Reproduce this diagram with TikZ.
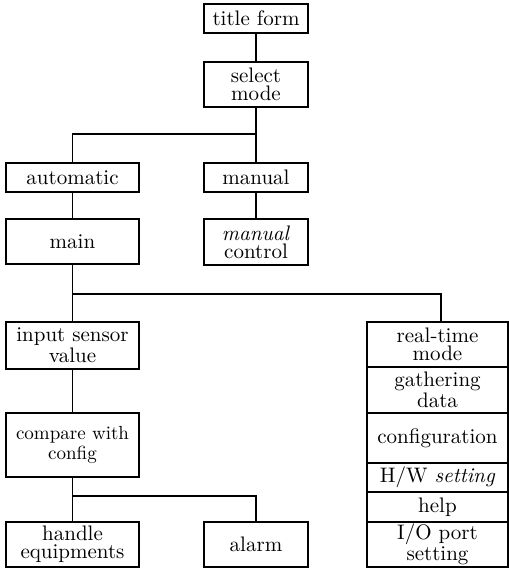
\documentclass[tikz,border=0pt]{standalone}
\usepackage{amsmath}
\usepackage{tikz}
\usetikzlibrary{positioning}

\tikzset{
  blk/.style={draw, line width=0.7pt, align=center, inner sep=0pt,
    font=\fontsize{10.5}{9}\selectfont},
  wide/.style={blk, minimum width=66.5pt},
  narrow/.style={blk, minimum width=52pt},
  stackbox/.style={blk, minimum width=70.5pt},
  link/.style={line width=0.7pt}
}

\begin{document}
\begin{tikzpicture}[x=0.5pt, y=-0.5pt]
        \useasboundingbox (0,0) rectangle (509,568);
        \node[narrow, minimum height=14.5pt] (title) at (256,18.5) {title form};
        \node[narrow, minimum height=22.5pt] (select) at (256,84.5) {select\\mode};
        \node[wide, minimum height=14.5pt] (auto) at (72.5,177.5) {automatic};
        \node[narrow, minimum height=14.5pt] (manual) at (256,177.5) {manual};
        \node[wide, minimum height=22.5pt] (main) at (72.5,241.5) {main};
        \node[narrow, minimum height=23pt] (mancon) at (256,242) {\textit{manual}\\control};
        \node[wide, minimum height=23.5pt] (input) at (72.5,345.5) {input sensor\\value};
        \node[wide, minimum height=32pt, font=\fontsize{9.5}{10}\selectfont] (compare) at (72.5,445) {compare with\\config};
        \node[wide, minimum height=22.5pt] (handle) at (72.5,544.5) {handle\\equipments};
        \node[narrow, minimum height=22.5pt] (alarm) at (256,544.5) {alarm};
        \node[stackbox, minimum height=22.5pt] (realtime) at (437.5,344.5) {real-time\\mode};
        \node[stackbox, minimum height=23pt] (gather) at (437.5,390) {gathering\\data};
        \node[stackbox, minimum height=25pt] (config) at (437.5,438) {configuration};
        \node[stackbox, minimum height=14.5pt] (hwset) at (437.5,477.5) {H/W \textit{setting}};
        \node[stackbox, minimum height=15pt] (help) at (437.5,507) {help};
        \node[stackbox, minimum height=22.5pt] (ioport) at (437.5,544.5) {I/O port\\setting};
        \coordinate (j1) at (256,134);
        \coordinate (j2) at (72.5,294);
        \coordinate (j3) at (72.5,496);
        \draw[link] (title) -- (select);
        \draw[link] (select) -- (manual);
        \draw[link] (j1) -| (auto);
        \draw[link] (auto) -- (main);
        \draw[link] (manual) -- (mancon);
        \draw[link] (main) -- (input);
        \draw[link] (j2) -| ([xshift=1.75pt]realtime.north);
        \draw[link] (input) -- (compare);
        \draw[link] (compare) -- (handle);
        \draw[link] (j3) -| (alarm);
    \end{tikzpicture}
\end{document}
